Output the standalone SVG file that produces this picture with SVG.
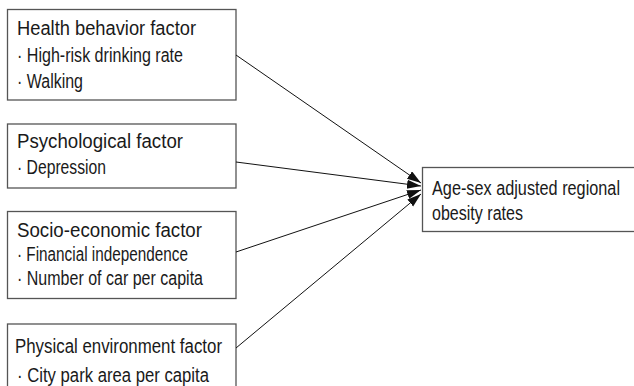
<svg xmlns="http://www.w3.org/2000/svg" width="634" height="386" viewBox="0 0 634 386">
<style>
.box{fill:#fff;stroke:#555;stroke-width:1.3}
text{font-family:"Liberation Sans Narrow","Liberation Sans",Arial,sans-serif;font-size:20px;fill:#1a1a1a}
.c{stroke:#111;stroke-width:1;fill:none}
</style>
<defs>
<marker id="ah" markerUnits="userSpaceOnUse" markerWidth="16" markerHeight="10" refX="14" refY="4.5" orient="auto">
<path d="M0,0 L14,4.5 L0,9 Z" fill="#111"/>
</marker>
</defs>
<g id="n1">
<rect class="box" x="7.5" y="9.5" width="228.5" height="90.5"/>
<text x="17" y="35" textLength="179" lengthAdjust="spacingAndGlyphs">Health behavior factor</text>
<text x="17" y="62" textLength="166" lengthAdjust="spacingAndGlyphs">· High-risk drinking rate</text>
<text x="17" y="88" textLength="66" lengthAdjust="spacingAndGlyphs">· Walking</text>
</g>
<g id="n2">
<rect class="box" x="7.5" y="124" width="228.5" height="64"/>
<text x="17" y="148" textLength="166" lengthAdjust="spacingAndGlyphs">Psychological factor</text>
<text x="17" y="174" textLength="89" lengthAdjust="spacingAndGlyphs">· Depression</text>
</g>
<g id="n3">
<rect class="box" x="7.5" y="211.5" width="228.5" height="87"/>
<text x="17" y="237" textLength="185" lengthAdjust="spacingAndGlyphs">Socio-economic factor</text>
<text x="17" y="261" textLength="171" lengthAdjust="spacingAndGlyphs">· Financial independence</text>
<text x="17" y="285" textLength="186" lengthAdjust="spacingAndGlyphs">· Number of car per capita</text>
</g>
<g id="n4">
<rect class="box" x="7.5" y="324" width="228.5" height="70"/>
<text x="15" y="353" textLength="207" lengthAdjust="spacingAndGlyphs">Physical environment factor</text>
<text x="17" y="382" textLength="192" lengthAdjust="spacingAndGlyphs">· City park area per capita</text>
</g>
<g id="n5">
<rect class="box" x="422.5" y="167.5" width="220" height="64"/>
<text x="432" y="195" textLength="188" lengthAdjust="spacingAndGlyphs">Age-sex adjusted regional</text>
<text x="432" y="220" textLength="91" lengthAdjust="spacingAndGlyphs">obesity rates</text>
</g>
<g id="connectors">
<line class="c" x1="236" y1="55" x2="421" y2="183" marker-end="url(#ah)"/>
<line class="c" x1="236" y1="162" x2="421" y2="186" marker-end="url(#ah)"/>
<line class="c" x1="236" y1="252" x2="421" y2="190" marker-end="url(#ah)"/>
<line class="c" x1="236" y1="348" x2="421" y2="194" marker-end="url(#ah)"/>
</g>
</svg>
